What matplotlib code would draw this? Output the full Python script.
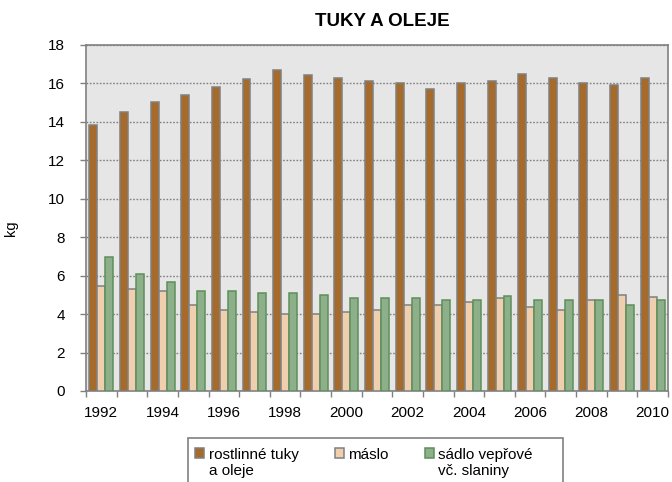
import matplotlib
matplotlib.use("Agg")
import matplotlib.pyplot as plt
from matplotlib.patches import Rectangle
import numpy as np

plt.rcParams['font.family'] = ['Liberation Sans', 'DejaVu Sans']

years = list(range(1992, 2011))
rostlinne = [13.85, 14.5, 15.05, 15.4, 15.8, 16.25, 16.7, 16.45, 16.3, 16.15,
             16.0, 15.7, 16.0, 16.15, 16.5, 16.3, 16.0, 15.9, 16.3]
maslo = [5.45, 5.3, 5.2, 4.45, 4.2, 4.1, 4.0, 4.0, 4.1, 4.2,
         4.45, 4.45, 4.65, 4.85, 4.35, 4.2, 4.75, 5.0, 4.9]
sadlo = [6.95, 6.1, 5.65, 5.2, 5.2, 5.1, 5.1, 5.0, 4.85, 4.85,
         4.85, 4.75, 4.75, 4.95, 4.75, 4.75, 4.75, 4.45, 4.75]
labels = ['rostlinné tuky\na oleje', 'máslo', 'sádlo vepřové\nvč. slaniny']
title = 'TUKY A OLEJE'
ylabel = 'kg'

W, H = 672, 482
fig = plt.figure(figsize=(W/100, H/100), dpi=100)
ax = fig.add_axes([86/W, 1-391/H, (668-86)/W, (391-45)/H])
ax.set_facecolor('#E6E6E6')

x = np.arange(len(years))
w = 0.26
ax.bar(x - w, rostlinne, w, color='#A66B2A', edgecolor='#808080', linewidth=1.1, label=labels[0], zorder=3)
ax.bar(x, maslo, w, color='#F0CFAE', edgecolor='#808080', linewidth=1.1, label=labels[1], zorder=3)
ax.bar(x + w, sadlo, w, color='#8DB08A', edgecolor='#5E8F5A', linewidth=1.1, label=labels[2], zorder=3)

ax.set_xlim(-0.5, len(years) - 0.5)
ax.set_ylim(0, 18)
ax.set_yticks(np.arange(0, 19, 2))
ax.yaxis.grid(True, color='#808080', linestyle=(0, (1.2, 1.2)), linewidth=1.0, zorder=1)

ax.set_xticks(x[::2])
ax.set_xticklabels([str(y) for y in years[::2]])
ax.set_xticks(np.arange(-0.5, len(years), 1.0), minor=True)
ax.tick_params(axis='x', which='major', length=0, pad=11, labelsize=11)
ax.tick_params(axis='x', which='minor', length=4, color='#808080', width=1.0)
ax.tick_params(axis='y', length=4.3, color='#808080', width=1.0, labelsize=11, pad=11)

for s in ['left', 'bottom', 'right', 'top']:
    ax.spines[s].set_color('#808080')
    ax.spines[s].set_linewidth(1.2)

ax.set_ylabel(ylabel, fontsize=10.5)
ax.yaxis.set_label_coords((18-86)/582, 0.47)

fig.text(382/W, 1-21/H, title, ha='center', va='center', fontsize=13.5, fontweight='bold')

# legend frame (extends past the bottom edge, as in the reference)
fig.patches.append(Rectangle((188/W, -0.05), (563-188)/W, 0.05 + (1-438/H),
                             transform=fig.transFigure, facecolor='white',
                             edgecolor='#808080', linewidth=1.2, zorder=0))

leg = fig.legend(loc='upper left', bbox_to_anchor=(195/W, 1-448/H), ncol=3,
                 fontsize=11, frameon=False,
                 handlelength=0.6, handleheight=0.6, handletextpad=0.3,
                 columnspacing=2.35, borderpad=0.0, borderaxespad=0.0, labelspacing=0.2)
leg._legend_handle_box.align = 'top'
for col in leg._legend_handle_box.get_children():
    col.align = 'left'
    for row in col.get_children():
        row.align = 'top'

fig.savefig('out.png', dpi=100)
